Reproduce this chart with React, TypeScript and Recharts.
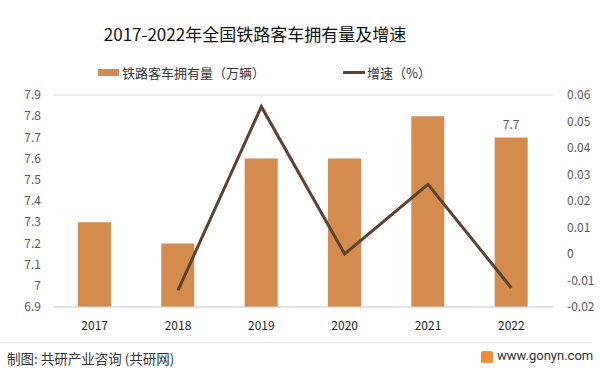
import { ComposedChart, Bar, Line, XAxis, YAxis, CartesianGrid, LabelList } from "recharts";

const years = ["2017", "2018", "2019", "2020", "2021", "2022"];
const stock = [7.3, 7.2, 7.6, 7.6, 7.8, 7.7];
const growth = [null, -0.0137, 0.0556, 0, 0.0263, -0.0128];
const barLabels = ["", "", "", "", "", "7.7"];
const leftTicks = [6.9, 7, 7.1, 7.2, 7.3, 7.4, 7.5, 7.6, 7.7, 7.8, 7.9];
const rightTicks = [-0.02, -0.01, 0, 0.01, 0.02, 0.03, 0.04, 0.05, 0.06];

const data = years.map((y, i) => ({ year: y, stock: stock[i], growth: growth[i], label: barLabels[i] }));

const font = '"Noto Sans CJK SC", "Noto Sans", sans-serif';
const BAR = "#D38B4E";
const LINE = "#5C4330";

export default function App() {
  return (
    <div style={{ position: "absolute", left: 0, top: 0, width: 602, height: 376, background: "#fff", fontFamily: font, overflow: "hidden" }}>
      <div style={{ position: "absolute", left: 0, width: 510, top: 21, textAlign: "center", fontSize: 17, color: "#111" }}>
        2017-2022年全国铁路客车拥有量及增速
      </div>
      <div style={{ position: "absolute", left: 98, top: 69, width: 21, height: 7, background: BAR }} />
      <div style={{ position: "absolute", left: 122, top: 63, fontSize: 13, color: "#333" }}>铁路客车拥有量（万辆）</div>
      <div style={{ position: "absolute", left: 343, top: 71, width: 22, height: 3, background: LINE }} />
      <div style={{ position: "absolute", left: 367, top: 63, fontSize: 13, color: "#333" }}>增速（%）</div>

      <ComposedChart width={602} height={376} data={data} margin={{ top: 95, right: 9, bottom: 39, left: 8 }} barCategoryGap="30%">
        <CartesianGrid vertical={false} stroke="#d9d9d9" />
        <XAxis dataKey="year" axisLine={{ stroke: "#d9d9d9" }} tickLine={false} height={30}
          tick={{ fontSize: 12, fill: "#222", fontFamily: font }} tickMargin={8} />
        <YAxis yAxisId="l" domain={[6.9, 7.9]} ticks={leftTicks} width={45} axisLine={false} tickLine={false}
          tick={{ fontSize: 12, fill: "#595959", fontFamily: font }} tickMargin={6} interval={0} />
        <YAxis yAxisId="r" orientation="right" domain={[-0.02, 0.06]} ticks={rightTicks} width={40} axisLine={false} tickLine={false}
          tick={{ fontSize: 12, fill: "#595959", fontFamily: font }} tickMargin={8} interval={0} />
        <Bar yAxisId="l" dataKey="stock" fill={BAR} isAnimationActive={false}>
          <LabelList dataKey="label" position="top" offset={8} style={{ fontSize: 12, fill: "#595959", fontFamily: font }} />
        </Bar>
        <Line yAxisId="r" dataKey="growth" stroke={LINE} strokeWidth={3} dot={false} isAnimationActive={false} />
      </ComposedChart>

      <div style={{ position: "absolute", left: 0, top: 342, width: 592, height: 1, background: "#e3e3e3" }} />
      <div style={{ position: "absolute", left: 7, top: 348, fontSize: 13.5, color: "#333" }}>制图: 共研产业咨询 (共研网)</div>
      <div style={{ position: "absolute", left: 481, top: 351, width: 12, height: 12, background: "#F08A3C", borderRadius: 2 }} />
      <div style={{ position: "absolute", left: 497, top: 348, fontSize: 13, color: "#333", fontFamily: "Roboto, sans-serif" }}>www.gonyn.com</div>
    </div>
  );
}
